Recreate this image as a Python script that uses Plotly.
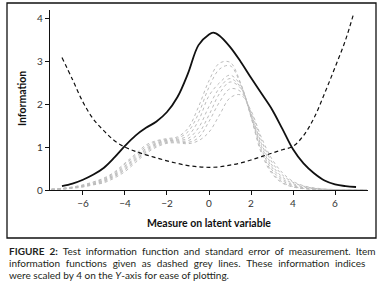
import plotly.graph_objects as go

# ---------------- data ----------------
tif_x = [-7, -6.5, -6, -5.5, -5, -4.5, -4, -3.5, -3, -2.5, -2, -1.5, -1, -0.5, 0, 0.2, 0.5,
         1, 1.5, 2, 2.5, 3, 3.5, 4, 4.5, 5, 5.5, 6, 6.5, 7]
tif_y = [0.09, 0.15, 0.24, 0.36, 0.52, 0.76, 1.03, 1.27, 1.45, 1.6, 1.82, 2.17, 2.72, 3.38, 3.63, 3.67, 3.6,
         3.34, 3.0, 2.62, 2.25, 1.88, 1.42, 0.95, 0.62, 0.39, 0.22, 0.13, 0.09, 0.07]

sem_x = [-7, -6.5, -6, -5.5, -5, -4.5, -4, -3.5, -3, -2.5, -2, -1.5, -1, -0.5, 0, 0.5, 1,
         1.5, 2, 2.5, 3, 3.5, 4, 4.5, 5, 5.5, 6, 6.5, 6.9]
sem_y = [3.09, 2.58, 2.05, 1.65, 1.38, 1.15, 1.0, 0.9, 0.82, 0.75, 0.68, 0.62, 0.57, 0.54, 0.53, 0.54, 0.58,
         0.63, 0.7, 0.78, 0.86, 0.94, 1.02, 1.27, 1.68, 2.25, 2.86, 3.5, 4.14]

item_x = [-7.5, -7, -6.5, -6, -5.5, -5, -4.5, -4, -3.5, -3, -2.5, -2, -1.5, -1, -0.5, 0, 0.5,
          1, 1.5, 2, 2.5, 3, 3.5, 4, 4.5, 5, 5.5, 6, 6.5, 7, 7.5]
item_1 = [0.02, 0.04, 0.07, 0.12, 0.19, 0.28, 0.42, 0.63, 0.84, 1.05, 1.15, 1.2, 1.24, 1.44, 1.94, 2.55, 2.96,
          2.98, 2.5, 1.7, 0.85, 0.38, 0.16, 0.07, 0.03, 0.015, 0.01, 0.005, 0.003, 0.002, 0.001]
item_2 = [0.02, 0.035, 0.065, 0.11, 0.18, 0.26, 0.4, 0.6, 0.81, 1.01, 1.13, 1.18, 1.21, 1.36, 1.78, 2.4, 2.82,
          2.9, 2.48, 1.72, 0.9, 0.42, 0.18, 0.08, 0.035, 0.015, 0.01, 0.005, 0.003, 0.002, 0.001]
item_3 = [0.015, 0.03, 0.06, 0.1, 0.16, 0.24, 0.37, 0.56, 0.77, 0.97, 1.1, 1.16, 1.18, 1.27, 1.62, 2.2, 2.5,
          2.68, 2.45, 1.72, 0.95, 0.47, 0.22, 0.1, 0.045, 0.02, 0.01, 0.005, 0.003, 0.002, 0.001]
item_4 = [0.015, 0.03, 0.055, 0.09, 0.15, 0.22, 0.35, 0.53, 0.74, 0.94, 1.08, 1.15, 1.16, 1.2, 1.45, 1.95, 2.38,
          2.6, 2.4, 1.75, 1.02, 0.53, 0.26, 0.12, 0.055, 0.025, 0.012, 0.006, 0.003, 0.002, 0.001]
item_5 = [0.01, 0.025, 0.05, 0.085, 0.14, 0.21, 0.33, 0.5, 0.71, 0.91, 1.06, 1.13, 1.14, 1.15, 1.32, 1.75, 2.25,
          2.52, 2.38, 1.78, 1.08, 0.58, 0.3, 0.15, 0.07, 0.03, 0.015, 0.008, 0.004, 0.002, 0.001]
item_6 = [0.01, 0.02, 0.045, 0.08, 0.13, 0.19, 0.31, 0.47, 0.68, 0.88, 1.03, 1.11, 1.12, 1.11, 1.22, 1.6, 2.05,
          2.36, 2.3, 1.82, 1.15, 0.65, 0.35, 0.18, 0.09, 0.04, 0.02, 0.01, 0.005, 0.003, 0.001]
item_7 = [0.01, 0.02, 0.04, 0.07, 0.12, 0.17, 0.28, 0.43, 0.64, 0.85, 1.0, 1.09, 1.1, 1.08, 1.15, 1.35, 1.75,
          2.15, 2.22, 1.85, 1.22, 0.72, 0.4, 0.2, 0.1, 0.05, 0.025, 0.012, 0.006, 0.003, 0.001]
item_curves = [item_1, item_2, item_3, item_4, item_5, item_6, item_7]

x_ticks = [-6, -4, -2, 0, 2, 4, 6]
y_ticks = [0, 1, 2, 3, 4]

x_title = "Measure on latent variable"
y_title = "Information"
caption_lines = [
    "<b>FIGURE 2:</b> Test information function and standard error of measurement. Item",
    "information functions given as dashed grey lines. These information indices",
    "were scaled by 4 on the <i>Y</i>-axis for ease of plotting.",
]
# extra inter-word space used to justify the first two caption lines
caption_gaps = [" \u2005", " \u2005\u200a", " "]

# ---------------- figure ----------------
fig = go.Figure()
for yv in item_curves:
    fig.add_trace(go.Scatter(x=item_x, y=yv, mode="lines", line_shape="spline",
                             line=dict(color="#bdbdbd", width=1, dash="dot"),
                             hoverinfo="skip", showlegend=False))
fig.add_trace(go.Scatter(x=sem_x, y=sem_y, mode="lines", line_shape="spline",
                         line=dict(color="#111111", width=1.2, dash="4px,3px"),
                         showlegend=False))
fig.add_trace(go.Scatter(x=tif_x, y=tif_y, mode="lines", line_shape="spline",
                         line=dict(color="#111111", width=1.8),
                         showlegend=False))

L, R, T, B = 50, 16, 10, 93
W, H = 384, 283
pw, ph = W - L - R, H - T - B

def px_x(p):
    return (p - L) / pw

def px_y(p):
    return (H - B - p) / ph

FONT = "Lato, Open Sans, sans-serif"
fig.update_layout(
    width=W, height=H,
    margin=dict(l=L, r=R, t=T, b=B, autoexpand=False),
    paper_bgcolor="white", plot_bgcolor="white",
    font=dict(family=FONT, color="#333333"),
    xaxis=dict(range=[-7.57, 7.57], tickvals=x_ticks, automargin=False,
               showline=True, linecolor="#111111", linewidth=1.2, ticks="outside", ticklen=4,
               tickcolor="#111111", showgrid=False, zeroline=False, tickfont=dict(size=10)),
    yaxis=dict(range=[0, 4.2], tickvals=y_ticks, automargin=False,
               showline=True, linecolor="#111111", linewidth=1.2,
               ticks="outside", ticklen=4, tickcolor="#111111", showgrid=False, zeroline=False,
               tickfont=dict(size=10)),
)

# axis titles
fig.add_annotation(xref="paper", yref="paper", x=px_x(209), y=px_y(223), text="<b>%s</b>" % x_title,
                   showarrow=False, xanchor="center", yanchor="middle",
                   font=dict(size=10.5, color="#111111", family=FONT))
fig.add_annotation(xref="paper", yref="paper", x=px_x(22), y=px_y(99), text="<b>%s</b>" % y_title,
                   showarrow=False, xanchor="center", yanchor="middle", textangle=-90,
                   font=dict(size=10.5, color="#111111", family=FONT))

# outer frame
fig.add_shape(type="rect", xref="paper", yref="paper",
              x0=px_x(7), x1=px_x(376), y0=px_y(238), y1=px_y(3),
              line=dict(color="#111111", width=1.3), fillcolor="rgba(0,0,0,0)", layer="below")

for i, (line, gap) in enumerate(zip(caption_lines, caption_gaps)):
    fig.add_annotation(xref="paper", yref="paper", x=px_x(8), y=px_y(251 + 12 * i),
                       xanchor="left", yanchor="middle", text=line.replace(" ", gap), showarrow=False,
                       borderpad=0, font=dict(size=10, color="#231f20", family=FONT))

fig.write_html("out.html", config={"displayModeBar": False},
               post_script="document.body.style.margin='0px';")
